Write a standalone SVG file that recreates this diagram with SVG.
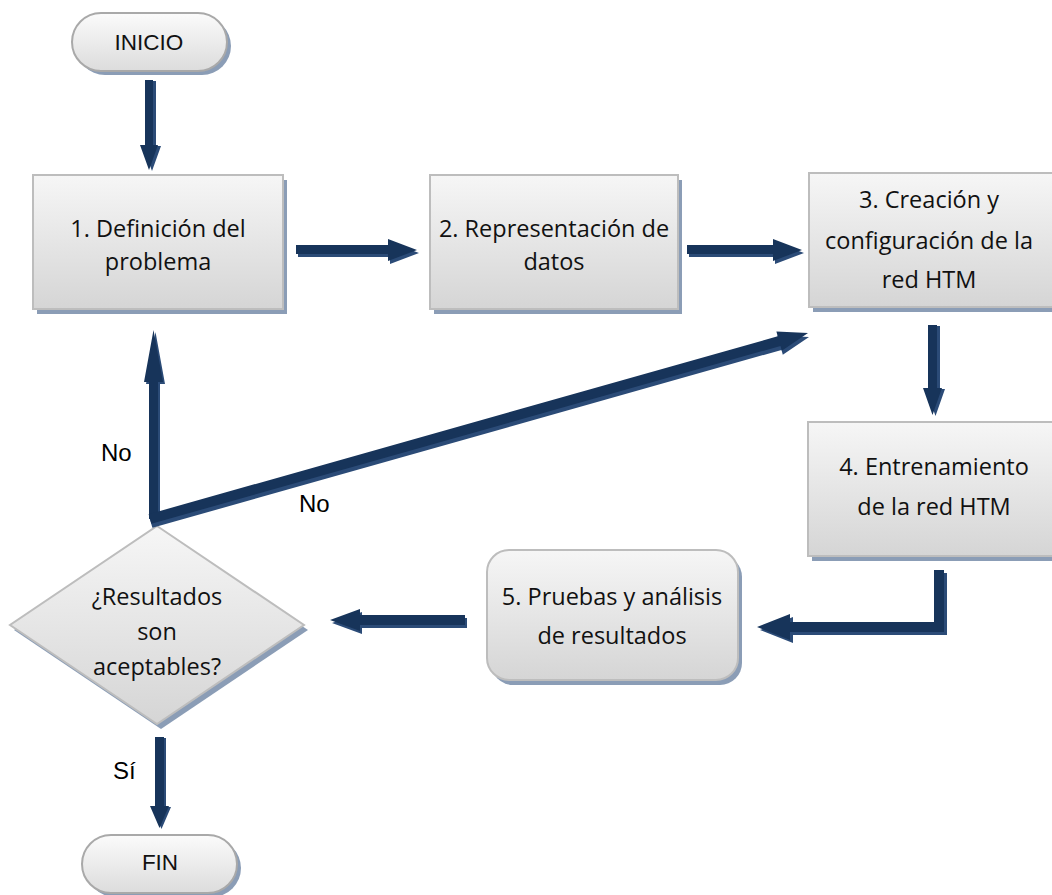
<svg xmlns="http://www.w3.org/2000/svg" width="1052" height="895" viewBox="0 0 1052 895">
  <defs>
    <linearGradient id="boxFill" x1="0" y1="0" x2="0" y2="1">
      <stop offset="0" stop-color="#f6f6f6"/>
      <stop offset="1" stop-color="#d5d5d5"/>
    </linearGradient>
    <linearGradient id="pillFill" x1="0" y1="0" x2="0" y2="1">
      <stop offset="0" stop-color="#fbfbfb"/>
      <stop offset="1" stop-color="#dcdcdc"/>
    </linearGradient>
    <style>
      .shadow { fill: #8b9db6; }
      .box { fill: url(#boxFill); stroke: #bdbdbd; stroke-width: 2; }
      .pill { fill: url(#pillFill); stroke: #a9a9a9; stroke-width: 2; }
      .lbl { font-family: "Open Sans", "Liberation Sans", sans-serif; font-size: 23.5px; fill: #111; text-anchor: middle; }
      .term { font-family: "Liberation Sans", Arial, sans-serif; font-size: 22.5px; fill: #111; text-anchor: middle; }
      .edge { font-family: "Liberation Sans", Arial, sans-serif; font-size: 24px; fill: #000; }
      .arr { fill: #17345a; }
      .arrBack { fill: #2b4b77; }
    </style>
  </defs>

  <!-- Start terminal -->
  <g id="inicio">
    <rect class="shadow" x="76" y="17" width="155" height="58" rx="29"/>
    <rect class="pill" x="72" y="13" width="155" height="58" rx="29"/>
    <text class="term" x="149" y="50">INICIO</text>
  </g>

  <!-- Step 1 -->
  <g id="paso1">
    <rect class="shadow" x="37" y="180" width="250" height="134"/>
    <rect class="box" x="33" y="175" width="250" height="134"/>
    <text class="lbl" x="158" y="237">1. Definición del</text>
    <text class="lbl" x="158" y="270">problema</text>
  </g>

  <!-- Step 2 -->
  <g id="paso2">
    <rect class="shadow" x="434" y="180" width="248" height="134"/>
    <rect class="box" x="430" y="175" width="248" height="134"/>
    <text class="lbl" x="554" y="237">2. Representación de</text>
    <text class="lbl" x="554" y="270">datos</text>
  </g>

  <!-- Step 3 -->
  <g id="paso3">
    <rect class="shadow" x="813" y="178" width="250" height="134"/>
    <rect class="box" x="809" y="173" width="250" height="134"/>
    <text class="lbl" x="929" y="208">3. Creación y</text>
    <text class="lbl" x="929" y="249">configuración de la</text>
    <text class="lbl" x="929" y="288">red HTM</text>
  </g>

  <!-- Step 4 -->
  <g id="paso4">
    <rect class="shadow" x="812" y="427" width="250" height="134"/>
    <rect class="box" x="808" y="422" width="250" height="134"/>
    <text class="lbl" x="934" y="475">4. Entrenamiento</text>
    <text class="lbl" x="934" y="515">de la red HTM</text>
  </g>

  <!-- Step 5 -->
  <g id="paso5">
    <rect class="shadow" x="491" y="555" width="251" height="130" rx="22"/>
    <rect class="box" x="487" y="550" width="251" height="130" rx="22"/>
    <text class="lbl" x="612" y="605">5. Pruebas y análisis</text>
    <text class="lbl" x="612" y="644">de resultados</text>
  </g>

  <!-- Decision -->
  <g id="decision">
    <polygon class="shadow" points="161,531 308,630 161,729 14,630"/>
    <polygon class="box" points="157,526 304,625 157,724 10,625"/>
    <text class="lbl" x="157" y="605">¿Resultados</text>
    <text class="lbl" x="157" y="640">son</text>
    <text class="lbl" x="157" y="675">aceptables?</text>
  </g>

  <!-- End terminal -->
  <g id="fin">
    <rect class="shadow" x="86" y="839" width="155" height="58" rx="29"/>
    <rect class="pill" x="82" y="835" width="155" height="58" rx="29"/>
    <text class="term" x="160" y="870">FIN</text>
  </g>

  <!-- Connectors -->
  <g id="connectors">
    <!-- INICIO to step 1 -->
    <polygon class="arrBack" transform="translate(3,1)" points="145,80 153,80 153,145 158,145 149,170 140,145 145,145"/>
    <polygon class="arr" points="145,80 153,80 153,145 158,145 149,170 140,145 145,145"/>

    <!-- step 1 to step 2 -->
    <polygon class="arrBack" transform="translate(2,3)" points="296,245 388,245 388,239 417,250 388,261 388,254 296,254"/>
    <polygon class="arr" points="296,245 388,245 388,239 417,250 388,261 388,254 296,254"/>

    <!-- step 2 to step 3 -->
    <polygon class="arrBack" transform="translate(2,3)" points="687,245 773,245 773,239 802,250 773,261 773,254 687,254"/>
    <polygon class="arr" points="687,245 773,245 773,239 802,250 773,261 773,254 687,254"/>

    <!-- step 3 to step 4 -->
    <polygon class="arrBack" transform="translate(3,1)" points="928,325 937,325 937,388 942,388 932.5,415 923,388 928,388"/>
    <polygon class="arr" points="928,325 937,325 937,388 942,388 932.5,415 923,388 928,388"/>

    <!-- step 4 to step 5 (elbow) -->
    <polygon class="arrBack" transform="translate(3,3)" points="934,570 944,570 944,632 790,632 790,640 757,627 790,614 790,622 934,622"/>
    <polygon class="arr" points="934,570 944,570 944,632 790,632 790,640 757,627 790,614 790,622 934,622"/>

    <!-- step 5 to decision -->
    <polygon class="arrBack" transform="translate(2,3)" points="465,615 360,615 360,609 330,620 360,631 360,625 465,625"/>
    <polygon class="arr" points="465,615 360,615 360,609 330,620 360,631 360,625 465,625"/>

    <!-- decision back to step 1 -->
    <polygon class="arrBack" transform="translate(2,2)" points="149,519 149,382 144,382 153.5,330 163,382 158,382 158,519"/>
    <polygon class="arr" points="149,519 149,382 144,382 153.5,330 163,382 158,382 158,519"/>

    <!-- decision back to step 3 -->
    <polygon class="arrBack" transform="translate(1,4)" points="148.6,514.2 777.7,336.3 776.4,331.5 808,333 781.8,350.7 780.5,345.9 151.4,523.8"/>
    <polygon class="arr" points="148.6,514.2 777.7,336.3 776.4,331.5 808,333 781.8,350.7 780.5,345.9 151.4,523.8"/>

    <!-- decision to FIN -->
    <polygon class="arrBack" transform="translate(2,1)" points="155,737 164,737 164,806 169,806 159.5,828 150,806 155,806"/>
    <polygon class="arr" points="155,737 164,737 164,806 169,806 159.5,828 150,806 155,806"/>

    <text class="edge" x="101" y="461">No</text>
    <text class="edge" x="299" y="512">No</text>
    <text class="edge" x="113" y="779">Sí</text>
  </g>
</svg>
